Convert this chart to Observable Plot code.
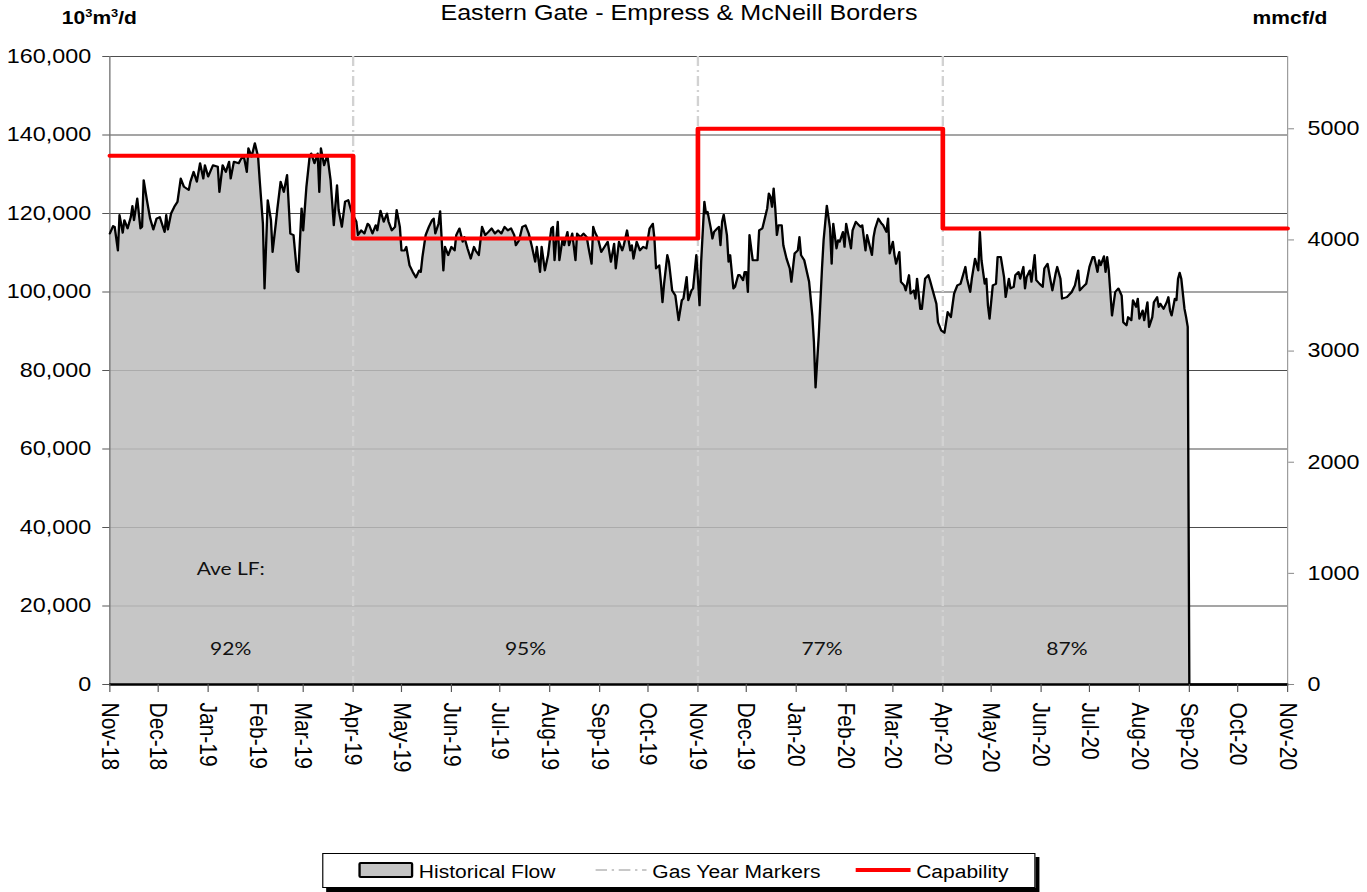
<!DOCTYPE html>
<html>
<head>
<meta charset="utf-8">
<script src="https://cdn.jsdelivr.net/npm/d3@7"></script>
<script src="https://cdn.jsdelivr.net/npm/@observablehq/plot@0.6"></script>
<style>
  html, body { margin: 0; padding: 0; background: #fff; overflow: hidden; }
  #wrap { position: relative; width: 1171px; height: 892px; transform: scaleX(1.16738); transform-origin: 0 0;
          font-family: "Liberation Sans", Arial, sans-serif; color: #000; }
  #header { position: relative; height: 30px; }
  .title { position: absolute; left: 581.6px; top: 2.8px; transform: translateX(-50%); font-size: 21.5px; line-height: 1; white-space: nowrap; }
  .unit { position: absolute; top: 8.8px; font-weight: bold; font-size: 18px; line-height: 1; white-space: nowrap; }
  .sup { font-size: 11px; position: relative; top: -7px; }
  #chart svg { display: block; }
  #legend { position: absolute; left: 275.8px; top: 853px; width: 610.8px; height: 35px; box-sizing: border-box;
            border: 1px solid #000; background: #fff; box-shadow: 3.4px 4px 0 #000; }
  .sw { position: absolute; top: 8px; left: 30px; width: 47px; height: 16px; box-sizing: border-box; border: 2px solid #000; background: #c4c4c4; border-radius: 2px; }
  .lt { position: absolute; top: 9px; font-size: 18px; line-height: 1; white-space: nowrap; }
  .red { position: absolute; top: 14px; left: 456px; width: 47px; height: 4px; background: #ff0000; }
  .gas { position: absolute; top: 10px; left: 233px; }
</style>
</head>
<body>
<div id="wrap">
  <div id="header">
    <span class="unit" style="left:53px">10<span class="sup">3</span>m<span class="sup">3</span>/d</span>
    <span class="title">Eastern Gate - Empress &amp; McNeill Borders</span>
    <span class="unit" style="left:1073px">mmcf/d</span>
  </div>
  <div id="chart"></div>
  <div id="legend">
    <div class="sw"></div>
    <span class="lt" style="left:82px">Historical Flow</span>
    <svg class="gas" width="44" height="12"><line x1="0" y1="6" x2="44" y2="6" stroke="#c8c8c8" stroke-width="2" stroke-dasharray="10,4,2,4"/></svg>
    <span class="lt" style="left:282px">Gas Year Markers</span>
    <div class="red"></div>
    <span class="lt" style="left:508px">Capability</span>
  </div>
</div>
<script>
// ---- Data ----
const startDate = "2018-11-01";
const endDate = "2020-11-01";

// Historical flow: day offset from 2018-11-01 and flow in 10^3 m^3/d
const flowDay = [
  0, 2, 3, 5, 6, 8, 9, 11, 13, 14,
  15, 17, 19, 20, 21, 23, 25, 27, 29, 31,
  34, 35, 36, 38, 40, 42, 44, 46, 49, 50,
  52, 54, 56, 58, 59, 61, 64, 67, 68, 70,
  72, 74, 75, 77, 80, 81, 83, 84, 85, 86,
  88, 90, 92, 93, 95, 96, 98, 100, 101, 103,
  104, 106, 108, 110, 112, 114, 116, 117, 119, 120,
  122, 124, 125, 127, 129, 130, 131, 133, 135, 137,
  139, 141, 142, 144, 146, 148, 150, 153, 154, 156,
  158, 160, 161, 163, 165, 166, 168, 170, 172, 173,
  175, 177, 178, 180, 181, 183, 184, 186, 188, 190,
  192, 193, 194, 196, 198, 200, 201, 202, 204, 205,
  207, 208, 210, 212, 214, 215, 217, 219, 220, 222,
  224, 226, 227, 229, 231, 233, 235, 237, 239, 241,
  243, 245, 247, 249, 251, 252, 254, 256, 258, 260,
  262, 264, 265, 267, 268, 270, 272, 274, 275, 276,
  278, 279, 281, 282, 284, 285, 287, 289, 290, 292,
  294, 296, 297, 299, 300, 301, 303, 305, 307, 309,
  311, 313, 314, 316, 318, 319, 321, 323, 324, 325,
  327, 329, 331, 333, 335, 337, 338, 339, 341, 342,
  343, 344, 346, 347, 349, 351, 353, 355, 356, 358,
  359, 361, 362, 364, 365, 366, 367, 369, 370, 371,
  373, 374, 375, 377, 378, 379, 380, 381, 383, 384,
  385, 387, 388, 390, 391, 393, 394, 395, 396, 397,
  399, 402, 403, 405, 406, 408, 409, 410, 411, 412,
  413, 414, 415, 417, 418, 420, 422, 423, 425, 427,
  428, 429, 431, 434, 436, 437, 438, 440, 442, 443,
  445, 447, 448, 449, 451, 452, 453, 455, 456, 457,
  458, 460, 461, 463, 465, 466, 467, 469, 470, 471,
  473, 474, 475, 477, 479, 480, 482, 483, 484, 486,
  487, 488, 490, 491, 493, 494, 496, 497, 499, 500,
  501, 503, 504, 506, 508, 509, 511, 513, 514, 516,
  518, 520, 522, 524, 526, 528, 531, 532, 534, 535,
  537, 539, 540, 541, 543, 544, 545, 546, 548, 550,
  551, 553, 555, 556, 558, 559, 561, 562, 564, 565,
  567, 568, 569, 571, 572, 574, 575, 577, 579, 580,
  582, 584, 585, 587, 588, 590, 591, 594, 597, 599,
  601, 602, 604, 606, 608, 610, 611, 613, 614, 615,
  617, 618, 619, 620, 622, 624, 626, 628, 629, 631,
  632, 634, 635, 637, 638, 639, 641, 642, 644, 645,
  647, 648, 650, 651, 652, 654, 656, 657, 658, 659,
  661, 662, 663, 664, 665, 667, 668, 669, 670, 731
];
const flowValue = [
  114900, 116800, 116600, 110600, 119600, 115100, 118300, 116200, 119100, 121900,
  118300, 123800, 116200, 116600, 128500, 123400, 118700, 115900, 118700, 119100,
  115300, 119600, 115900, 120000, 121700, 123000, 128900, 126800, 126000, 128100,
  130600, 128100, 132800, 128900, 132300, 129400, 132300, 131900, 125500, 132300,
  130600, 133200, 128900, 133200, 132800, 133600, 134900, 132800, 130600, 136600,
  134500, 137900, 134500, 128500, 117400, 100900, 123400, 118300, 110200, 117400,
  121300, 128100, 125500, 129800, 114900, 114500, 105500, 105100, 121300, 115700,
  126800, 134500, 135300, 132800, 135300, 125500, 136600, 132300, 134900, 128500,
  117000, 127200, 120900, 116600, 123000, 123400, 120400, 117900, 114500, 115700,
  114900, 117400, 117000, 114900, 117000, 115700, 120700, 117900, 120000, 117900,
  115700, 116600, 120900, 116600, 110600, 110600, 111500, 106800, 105100, 103700,
  105500, 105100, 108900, 114500, 116600, 118300, 118700, 114900, 117400, 120600,
  105500, 111500, 109400, 111500, 110600, 114500, 116200, 112800, 114000, 111100,
  108500, 111500, 110600, 109400, 116600, 114500, 115300, 116200, 114900, 115700,
  114900, 116600, 115700, 116200, 114500, 111900, 113200, 116600, 117000, 114900,
  111500, 107700, 111500, 105100, 111500, 105500, 109400, 116200, 116600, 108100,
  117900, 108100, 113600, 111900, 115300, 111900, 114900, 108100, 114900, 114000,
  114900, 114000, 111500, 107200, 116600, 115300, 113600, 110200, 111500, 112800,
  107700, 112300, 106000, 112800, 110600, 111900, 115700, 110600, 111900, 108500,
  112800, 110600, 111500, 111100, 116200, 117400, 113600, 106000, 106800, 102600,
  97400, 102100, 109400, 107700, 100400, 99100, 92800, 97900, 98300, 103800,
  97900, 100400, 100900, 109400, 103400, 96600, 107700, 123000, 120000, 120400,
  116200, 113600, 115300, 116200, 116600, 111900, 117900, 119700, 114500, 107700,
  109400, 100900, 101300, 104300, 104300, 103000, 105100, 105100, 100000, 114500,
  108100, 108100, 115700, 116200, 117900, 121300, 125100, 124300, 121700, 126400,
  121300, 114500, 117000, 117000, 111900, 108500, 106000, 102600, 109800, 110600,
  114000, 109400, 108100, 102600, 94000, 87200, 75700, 88900, 106000, 113200,
  122000, 116200, 107200, 117400, 111100, 113200, 112800, 115300, 111500, 117400,
  115300, 111100, 115700, 117900, 117000, 116600, 117000, 110600, 114500, 112800,
  109400, 114000, 116200, 118700, 117400, 117000, 115300, 118700, 109800, 112800,
  109400, 107200, 110200, 102600, 101700, 100400, 104300, 99600, 100400, 98300,
  103400, 95700, 95700, 103400, 104300, 103000, 100000, 97000, 92300, 90200,
  89600, 94900, 93600, 99600, 101700, 102100, 106400, 103400, 100000, 103400,
  108500, 105500, 115300, 108100, 102100, 103400, 96600, 93200, 101700, 102100,
  108900, 108900, 103800, 98700, 103400, 100900, 101300, 104300, 105100, 103400,
  106400, 100900, 103800, 105500, 102600, 109400, 103000, 102100, 101300, 106000,
  107200, 102600, 100400, 104700, 106400, 103400, 98300, 98700, 100000, 101700,
  105500, 100400, 101300, 102100, 106400, 108900, 108900, 105100, 108100, 106800,
  109100, 105100, 108900, 105500, 94000, 100000, 100900, 99100, 92300, 91500,
  93600, 92800, 97900, 96200, 98300, 93200, 95300, 92800, 97400, 91100,
  93600, 97400, 98700, 96200, 97000, 95700, 97400, 98700, 95300, 94000,
  98300, 97900, 103400, 104900, 103400, 95700, 93600, 91100, 0, 0
];

// Capability (step changes at gas-year boundaries)
const capDates = ["2018-11-01", "2019-04-01", "2019-11-01", "2020-04-01", "2020-11-01"];
const capValues = [134700, 113600, 141600, 116200, 116200];

// Gas year markers
const gasYearMarkers = ["2019-04-01", "2019-11-01", "2020-04-01"];

// Average load factor labels (one per gas-year period)
const lfHeading = "Ave LF:";
const lfLabels = ["92%", "95%", "77%", "87%"];
const lfPeriodMid = ["2019-01-15", "2019-07-17", "2020-01-17", "2020-06-17"];

// Axis ticks
const yTicks = [0, 20000, 40000, 60000, 80000, 100000, 120000, 140000, 160000];
const rightTicks = [0, 1000, 2000, 3000, 4000, 5000]; // mmcf/d
const mmcfTo1e3m3 = 28.3168;
const monthTicks = [
  "2018-11-01", "2018-12-01", "2019-01-01", "2019-02-01", "2019-03-01", "2019-04-01", "2019-05-01",
  "2019-06-01", "2019-07-01", "2019-08-01", "2019-09-01", "2019-10-01", "2019-11-01", "2019-12-01",
  "2020-01-01", "2020-02-01", "2020-03-01", "2020-04-01", "2020-05-01", "2020-06-01", "2020-07-01",
  "2020-08-01", "2020-09-01", "2020-10-01", "2020-11-01"
];

// ---- Build tables ----
const utc = s => new Date(s + "T00:00:00Z");
const t0 = utc(startDate);
const flow = flowDay.map((d, i) => ({ date: d3.utcDay.offset(t0, d), value: flowValue[i] }));
const cap = capDates.map((d, i) => ({ date: utc(d), value: capValues[i] }));
const markers = gasYearMarkers.map(utc);
const ticksX = monthTicks.map(utc);
const xDomain = [utc(startDate), utc(endDate)];
const lfData = lfLabels.map((t, i) => ({ text: t, date: utc(lfPeriodMid[i]) }));
const lfHead = [{ text: lfHeading, date: utc(lfPeriodMid[0]) }];

const fmt = d3.format(",");
const monthFmt = d3.utcFormat("%b-%y");

const chart = Plot.plot({
  width: 1171,
  height: 815,
  marginTop: 26,
  marginLeft: 93.6,
  marginRight: 68.5,
  marginBottom: 161,
  style: { fontFamily: "'Liberation Sans', Arial, sans-serif", fontSize: "20px", color: "#000", background: "transparent", overflow: "visible" },
  x: { type: "utc", domain: xDomain, label: null },
  y: { domain: [0, 160000], label: null },
  marks: [
    Plot.ruleY(yTicks, { stroke: "#4d4d4d", strokeWidth: 1 }),
    Plot.areaY(flow, { x: "date", y: "value", fill: "#bcbcbc", fillOpacity: 0.85 }),
    Plot.ruleX(markers, { stroke: "#d2d2d2", strokeWidth: 2, strokeDasharray: "10,4,2,4" }),
    Plot.ruleX([xDomain[0]], { stroke: "#7a7a7a", strokeWidth: 1.2 }),
    Plot.ruleX([xDomain[1]], { stroke: "#9a9a9a", strokeWidth: 1 }),
    Plot.line(flow, { x: "date", y: "value", stroke: "#000", strokeWidth: 2 }),
    Plot.line(cap, { x: "date", y: "value", curve: "step-after", stroke: "#ff0000", strokeWidth: 4 }),
    Plot.ruleY([0], { stroke: "#000", strokeWidth: 2.5 }),
    Plot.axisY({ anchor: "left", ticks: yTicks, tickFormat: fmt, tickSize: 6, tickPadding: 10, fontSize: 20, label: null, stroke: "#555" }),
    Plot.axisY({ anchor: "right", ticks: rightTicks.map(v => v * mmcfTo1e3m3), tickFormat: v => String(Math.round(v / mmcfTo1e3m3)),
                 tickSize: 5, tickPadding: 12, fontSize: 20, label: null, stroke: "#888" }),
    Plot.axisX({ ticks: ticksX, tickFormat: monthFmt, tickRotate: 90, tickSize: 8, tickPadding: 10, fontSize: 21, label: null, stroke: "#555" }),
    Plot.text(lfHead, { x: "date", y: 28025, text: "text", lineAnchor: "bottom", textAnchor: "middle",
                 fontFamily: "Lato, sans-serif", fontSize: 18, fill: "#111" }),
    Plot.text(lfData, { x: "date", y: 7390, text: "text", lineAnchor: "bottom", textAnchor: "middle",
                 fontFamily: "Lato, sans-serif", fontSize: 18, fill: "#111" })
  ]
});
document.getElementById("chart").appendChild(chart);
</script>
</body>
</html>
